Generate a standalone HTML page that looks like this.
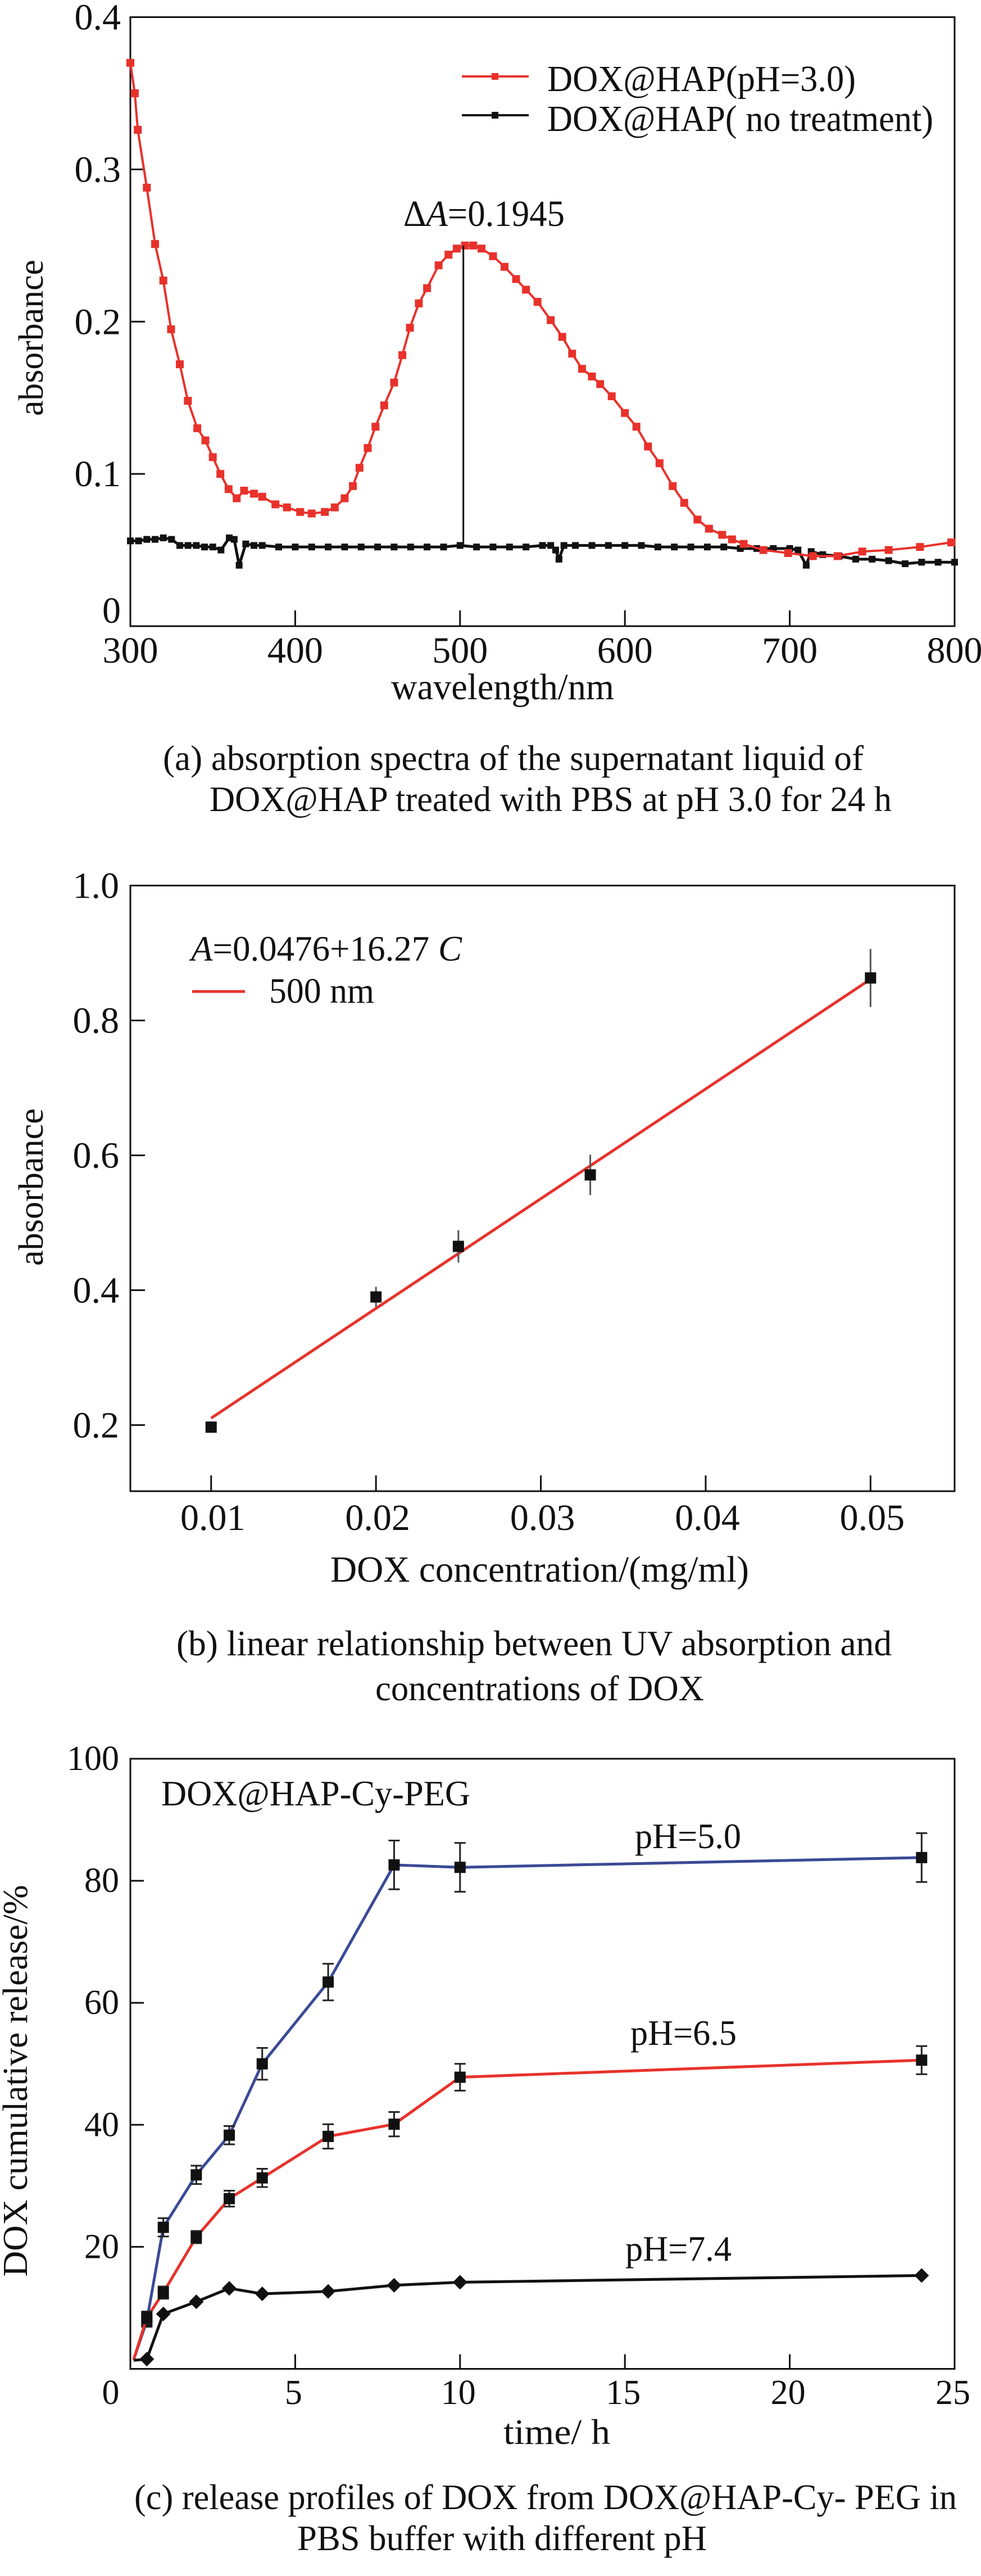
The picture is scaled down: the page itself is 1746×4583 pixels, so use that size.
<!DOCTYPE html>
<html><head><meta charset="utf-8"><style>
html,body{margin:0;padding:0;background:#fff}
svg{display:block}
text{font-family:"Liberation Serif",serif;fill:#111}
</style></head><body>
<svg id="fig" width="1746" height="4583" viewBox="0 0 1746 4583" xmlns="http://www.w3.org/2000/svg">
<g id="ga"></g>
<g id="gb"></g>
<g id="gc"></g>
</svg>
<script>
// ---- Chart A data ----
const aRedNm=[300,302.7,304.5,310,315,320,324.7,330,334.9,340.6,345.5,350,354.6,359.6,364.5,369,375,380,388,395,403,410,418,424,430,435,439,444,448.7,454,460,465,469.6,475,480,487,493,498,503,508,513,520,527,534,540,547,555,562,568,574,580,585,592,600,607,614,621,629,636,644,651,659,665,672,684,699,714,729,744,760,779,798];
const aRedAbs=[0.37,0.35,0.326,0.288,0.251,0.227,0.195,0.172,0.148,0.13,0.122,0.111,0.1,0.09,0.084,0.089,0.087,0.085,0.08,0.078,0.075,0.074,0.075,0.078,0.084,0.092,0.104,0.117,0.131,0.145,0.16,0.178,0.196,0.212,0.222,0.237,0.244,0.248,0.25,0.25,0.248,0.243,0.236,0.228,0.221,0.213,0.201,0.19,0.179,0.169,0.164,0.159,0.151,0.14,0.131,0.118,0.107,0.092,0.081,0.07,0.064,0.06,0.057,0.054,0.05,0.048,0.046,0.046,0.049,0.05,0.052,0.055];
const aBlkNm=[300,305,310,315,320,325,330,335,340,345,350,355,360,363,366,370,375,380,390,400,410,420,430,440,450,460,470,480,490,500,510,520,530,540,550,555,558,560,563,570,580,590,600,610,620,630,640,650,660,670,680,690,700,705,710,713,720,730,740,750,760,770,780,790,800];
const aBlkAbs=[0.056,0.056,0.057,0.057,0.058,0.057,0.053,0.053,0.053,0.052,0.052,0.05,0.058,0.057,0.04,0.054,0.053,0.053,0.052,0.052,0.052,0.052,0.052,0.052,0.052,0.052,0.052,0.052,0.052,0.053,0.052,0.052,0.052,0.052,0.053,0.053,0.05,0.044,0.053,0.053,0.053,0.053,0.053,0.053,0.052,0.052,0.052,0.052,0.052,0.051,0.051,0.051,0.051,0.05,0.04,0.049,0.047,0.046,0.044,0.044,0.043,0.041,0.042,0.042,0.042];
const aXTicks=[300,400,500,600,700,800];
const aYTicks=[0,0.1,0.2,0.3,0.4];
const aYLabels=["0","0.1","0.2","0.3","0.4"];
// ---- Chart B data ----
const bConc=[0.01,0.02,0.025,0.033,0.05];
const bAbs=[0.197,0.39,0.465,0.571,0.863];
const bErr=[0.005,0.015,0.024,0.03,0.043];
const bIntercept=0.0476, bSlope=16.27;
const bXTicks=[0.01,0.02,0.03,0.04,0.05];
const bXLabels=["0.01","0.02","0.03","0.04","0.05"];
const bYTicks=[0.2,0.4,0.6,0.8,1.0];
const bYLabels=["0.2","0.4","0.6","0.8","1.0"];
// ---- Chart C data ----
const cTime=[0.1,0.5,1,2,3,4,6,8,10,24];
const cPH50=[1.5,7.9,23.2,31.8,38.3,50,63.4,82.6,82.2,83.8];
const cPH50Err=[0,1,1.5,1.5,1.5,2.6,3,4,4,4];
const cPH65=[1.5,8.4,12.5,21.6,27.9,31.3,38.1,40.1,47.8,50.6];
const cPH65Err=[0,1,1,1,1.3,1.5,2,2,2.2,2.3];
const cTimeBlk=[0.1,0.5,1,2,3,4,6,8,10,24];
const cPH74=[1.4,1.6,9,11,13.2,12.3,12.7,13.7,14.2,15.3];
const cXTicks=[0,5,10,15,20,25];
const cYTicks=[20,40,60,80,100];

const NS="http://www.w3.org/2000/svg";
function mk(parent,tag,attrs,txt){const e=document.createElementNS(NS,tag);for(const k in attrs)e.setAttribute(k,attrs[k]);if(txt!==undefined)e.textContent=txt;parent.appendChild(e);return e;}
function lin(d0,d1,r0,r1){return v=>r0+(v-d0)/(d1-d0)*(r1-r0);}

// ===== Chart A =====
(function(){
const g=document.getElementById('ga');
const L=232,R=1699,T=30.5,B=1114;
const x=lin(300,800,L,R), y=lin(0,0.4,B,T);
let e=mk(g,'rect',{x:L,y:T,width:R-L,height:B-T,fill:'none',stroke:'#111','stroke-width':3});

aXTicks.forEach(t=>{
 e=mk(g,'line',{x1:x(t),x2:x(t),y1:B,y2:B-28,stroke:'#111','stroke-width':3});
 
 e=mk(g,'text',{x:x(t),y:1179,'font-size':66,'text-anchor':'middle'},String(t));
 
});
aYTicks.forEach((t,i)=>{
 e=mk(g,'line',{x1:L,x2:L+26,y1:y(t),y2:y(t),stroke:'#111','stroke-width':3});
 
 e=mk(g,'text',{x:215,y:y(t)+(i==0?-6:22),'font-size':66,'text-anchor':'end'},aYLabels[i]);
 
});
let p=aBlkNm.map((v,i)=>x(v)+','+y(aBlkAbs[i])).join(' ');
e=mk(g,'polyline',{points:p,fill:'none',stroke:'#111','stroke-width':5});

aBlkNm.forEach((v,i)=>{e=mk(g,'rect',{x:x(v)-6,y:y(aBlkAbs[i])-6,width:12,height:12,fill:'#111'});
 });
p=aRedNm.map((v,i)=>x(v)+','+y(aRedAbs[i])).join(' ');
e=mk(g,'polyline',{points:p,fill:'none',stroke:'#e8312b','stroke-width':4});

aRedNm.forEach((v,i)=>{e=mk(g,'rect',{x:x(v)-7,y:y(aRedAbs[i])-7,width:14,height:14,fill:'#e8312b'});
 });
e=mk(g,'line',{x1:x(502),x2:x(502),y1:y(0.25),y2:y(0.053),stroke:'#111','stroke-width':3});

e=mk(g,'text',{x:718,y:402,'font-size':66,textLength:287,lengthAdjust:'spacingAndGlyphs'});
e.innerHTML='Δ<tspan font-style="italic">A</tspan>=0.1945';

e=mk(g,'line',{x1:822,x2:941,y1:136,y2:136,stroke:'#e8312b','stroke-width':4});

e=mk(g,'rect',{x:875,y:130,width:12,height:12,fill:'#e8312b'});

e=mk(g,'text',{x:974,y:162,'font-size':66,textLength:549,lengthAdjust:'spacingAndGlyphs'},'DOX@HAP(pH=3.0)');

e=mk(g,'line',{x1:822,x2:941,y1:205,y2:205,stroke:'#111','stroke-width':4});

e=mk(g,'rect',{x:875,y:199,width:12,height:12,fill:'#111'});

e=mk(g,'text',{x:974,y:233,'font-size':66,textLength:687,lengthAdjust:'spacingAndGlyphs'},'DOX@HAP( no treatment)');

e=mk(g,'text',{x:0,y:0,'font-size':62,'text-anchor':'middle',transform:'translate(76,601) rotate(-90)',textLength:278,lengthAdjust:'spacingAndGlyphs'},'absorbance');

e=mk(g,'text',{x:696,y:1244,'font-size':66,textLength:397,lengthAdjust:'spacingAndGlyphs'},'wavelength/nm');

e=mk(g,'text',{x:290,y:1370,'font-size':64,textLength:1247,lengthAdjust:'spacingAndGlyphs'},'(a) absorption spectra of the supernatant liquid  of');

e=mk(g,'text',{x:373,y:1443,'font-size':64,textLength:1214,lengthAdjust:'spacingAndGlyphs'},'DOX@HAP treated with PBS at pH 3.0 for 24 h');

})();

// ===== Chart B =====
(function(){
const g=document.getElementById('gb');
const L=232,R=1699,T=1575.5,B=2653;
const x=lin(0.0051,0.0551,L,R), y=lin(0.102,1.0,B,T);
let e=mk(g,'rect',{x:L,y:T,width:R-L,height:B-T,fill:'none',stroke:'#111','stroke-width':3});

bXTicks.forEach((t,i)=>{
 e=mk(g,'line',{x1:x(t),x2:x(t),y1:B,y2:B-28,stroke:'#111','stroke-width':3});
 
 e=mk(g,'text',{x:x(t)+3,y:2722,'font-size':66,'text-anchor':'middle'},bXLabels[i]);
 
});
bYTicks.forEach((t,i)=>{
 if(t<1){e=mk(g,'line',{x1:L,x2:L+26,y1:y(t),y2:y(t),stroke:'#111','stroke-width':3});
 }
 e=mk(g,'text',{x:212,y:y(t)+22,'font-size':66,'text-anchor':'end'},bYLabels[i]);
 
});
const c0=bConc[0], c1=bConc[bConc.length-1];
e=mk(g,'line',{x1:x(c0),y1:y(bIntercept+bSlope*c0),x2:x(c1),y2:y(bIntercept+bSlope*c1),stroke:'#e8312b','stroke-width':5});

bConc.forEach((c,i)=>{
 e=mk(g,'line',{x1:x(c),x2:x(c),y1:y(bAbs[i]+bErr[i]),y2:y(bAbs[i]-bErr[i]),stroke:'#555','stroke-width':3});
 
 e=mk(g,'rect',{x:x(c)-10,y:y(bAbs[i])-10,width:20,height:20,fill:'#111'});
 
});
e=mk(g,'text',{x:340,y:1709,'font-size':64,textLength:482,lengthAdjust:'spacingAndGlyphs'});
e.innerHTML='<tspan font-style="italic">A</tspan>=0.0476+16.27 <tspan font-style="italic">C</tspan>';

e=mk(g,'line',{x1:342,x2:436,y1:1764,y2:1764,stroke:'#e8312b','stroke-width':5});

e=mk(g,'text',{x:479,y:1784,'font-size':64,textLength:187,lengthAdjust:'spacingAndGlyphs'},'500 nm');

e=mk(g,'text',{x:0,y:0,'font-size':62,'text-anchor':'middle',transform:'translate(76,2112) rotate(-90)',textLength:280,lengthAdjust:'spacingAndGlyphs'},'absorbance');

e=mk(g,'text',{x:588,y:2814,'font-size':66,textLength:745,lengthAdjust:'spacingAndGlyphs'},'DOX concentration/(mg/ml)');

e=mk(g,'text',{x:314,y:2945,'font-size':64,textLength:1273,lengthAdjust:'spacingAndGlyphs'},'(b)  linear relationship between UV absorption and');

e=mk(g,'text',{x:668,y:3025,'font-size':64,textLength:585,lengthAdjust:'spacingAndGlyphs'},'concentrations of DOX');

})();

// ===== Chart C =====
(function(){
const g=document.getElementById('gc');
const L=232,R=1699,T=3129,B=4214.5;
const x=lin(0,25,L,R), y=lin(0,100,B,T);
let e=mk(g,'rect',{x:L,y:T,width:R-L,height:B-T,fill:'none',stroke:'#111','stroke-width':3});

cXTicks.forEach(t=>{
 if(t>0&&t<25){e=mk(g,'line',{x1:x(t),x2:x(t),y1:B,y2:B-26,stroke:'#111','stroke-width':3});
 }
 e=mk(g,'text',{x:t==0?x(t)-35:x(t)-3,y:4277,'font-size':62,'text-anchor':'middle'},String(t));
 
});
cYTicks.forEach(t=>{
 if(t<100){e=mk(g,'line',{x1:L,x2:L+24,y1:y(t),y2:y(t),stroke:'#111','stroke-width':3});
 }
 e=mk(g,'text',{x:212,y:y(t)+20,'font-size':62,'text-anchor':'end'},String(t));
 
});
function series(ts,vals,errs,color,name,diamond){
 const p=ts.map((t,i)=>x(t)+','+y(vals[i])).join(' ');
 let e=mk(g,'polyline',{points:p,fill:'none',stroke:color,'stroke-width':5});
 
 ts.forEach((t,i)=>{
  if(i==0)return;
  if(errs&&errs[i]>0){
   const cx=x(t),y1=y(vals[i]+errs[i]),y2=y(vals[i]-errs[i]);
   e=mk(g,'path',{d:`M${cx},${y1}V${y2}M${cx-10},${y1}H${cx+10}M${cx-10},${y2}H${cx+10}`,stroke:'#222','stroke-width':3,fill:'none'});
   
  }
  if(diamond){const cx=x(t),cy=y(vals[i]);
   e=mk(g,'polygon',{points:`${cx},${cy-13} ${cx+13},${cy} ${cx},${cy+13} ${cx-13},${cy}`,fill:'#111'});
  }else{e=mk(g,'rect',{x:x(t)-10,y:y(vals[i])-10,width:20,height:20,fill:'#111'});}
  
 });
}
series(cTime,cPH50,cPH50Err,'#3a4a96','series-ph5',false);
series(cTime,cPH65,cPH65Err,'#e8312b','series-ph6-5',false);
series(cTimeBlk,cPH74,null,'#111','series-ph7-4',true);
e=mk(g,'text',{x:287,y:3212,'font-size':64,textLength:550,lengthAdjust:'spacingAndGlyphs'},'DOX@HAP-Cy-PEG');

e=mk(g,'text',{x:1130,y:3288,'font-size':64,textLength:189,lengthAdjust:'spacingAndGlyphs'},'pH=5.0');

e=mk(g,'text',{x:1122,y:3638,'font-size':64,textLength:189,lengthAdjust:'spacingAndGlyphs'},'pH=6.5');

e=mk(g,'text',{x:1113,y:4022,'font-size':64,textLength:189,lengthAdjust:'spacingAndGlyphs'},'pH=7.4');

e=mk(g,'text',{x:0,y:0,'font-size':62,'text-anchor':'middle',transform:'translate(48,3702) rotate(-90)',textLength:697,lengthAdjust:'spacingAndGlyphs'},'DOX cumulative release/%');

e=mk(g,'text',{x:896,y:4348,'font-size':64,textLength:190,lengthAdjust:'spacingAndGlyphs'},'time/ h');

e=mk(g,'text',{x:239,y:4464,'font-size':64,textLength:1464,lengthAdjust:'spacingAndGlyphs'},'(c) release profiles of DOX from DOX@HAP-Cy- PEG in');

e=mk(g,'text',{x:529,y:4537,'font-size':64,textLength:729,lengthAdjust:'spacingAndGlyphs'},'PBS buffer with different pH');

})();
</script>
</body></html>
